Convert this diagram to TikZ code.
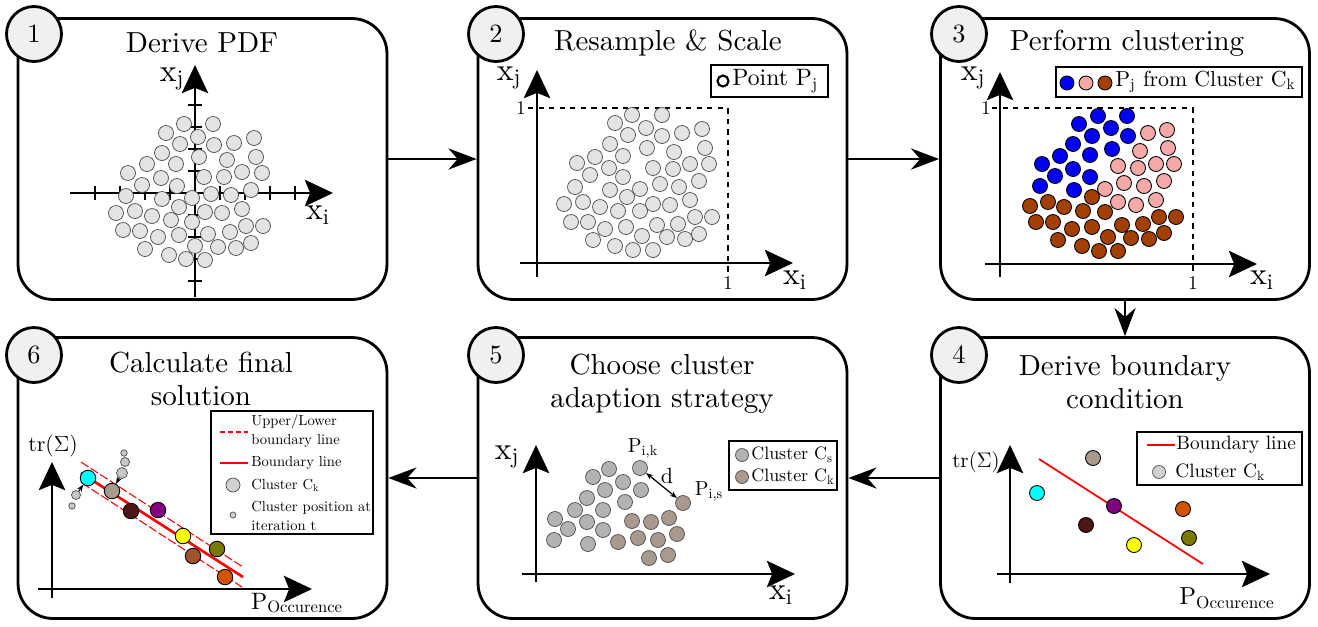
\RequirePackage{fix-cm}
\documentclass[tikz,border=0pt]{standalone}
\usepackage{fontspec}
\setmainfont{lmroman10-regular.otf}
\usepackage{tikz}
\usetikzlibrary{arrows.meta}

\definecolor{ptgray}{HTML}{E3E3E3}
\definecolor{numgray}{HTML}{F0F0F0}
\definecolor{clblue}{HTML}{0000F5}
\definecolor{clpink}{HTML}{F5A8A8}
\definecolor{clbrown}{HTML}{A33F00}
\definecolor{csgray}{HTML}{B3B3B3}
\definecolor{cktaupe}{HTML}{A99A8E}
\definecolor{ccyan}{HTML}{00FFFF}
\definecolor{cpurple}{HTML}{800080}
\definecolor{corange}{HTML}{D35400}
\definecolor{cdark}{HTML}{4D1515}
\definecolor{colive}{HTML}{7A7A00}
\definecolor{cyellow}{HTML}{FFFF00}
\definecolor{csienna}{HTML}{A0522D}

\tikzset{
  stepbox/.style={draw, line width=1.6pt, rounded corners=0.7cm, minimum width=7.38cm, minimum height=5.62cm},
  numcirc/.style={draw, circle, line width=1.6pt, fill=numgray, minimum size=1.1cm, inner sep=0pt, font=\fontsize{15}{18}\selectfont},
  title/.style={align=center, inner sep=0pt, font=\fontsize{16.5}{19}\selectfont},
  flow/.style={line width=1.5pt, -{Stealth[length=16pt,width=12pt]}},
  axis/.style={line width=1.4pt, -{Stealth[length=16pt,width=15pt,inset=3pt]}},
  axlabel/.style={font=\fontsize{18}{21}\selectfont, inner sep=0pt},
  unitlabel/.style={font=\fontsize{11}{13}\selectfont, inner sep=0pt},
  pt/.style={draw=black!70, line width=0.4pt, fill=ptgray},
  cl/.style={draw=black, line width=0.5pt},
  legbox/.style={draw, line width=1pt, inner sep=0pt},
  legtext/.style={anchor=west, inner sep=0pt, align=left}
}

\begin{document}
\begin{tikzpicture}[x=0.02cm, y=-0.02cm]
\useasboundingbox (0,0) rectangle (1318,626);

% step boxes
\node[stepbox] (b1) at (202.5,159) {};
\node[stepbox] (b2) at (662.5,159) {};
\node[stepbox] (b3) at (1125,159) {};
\node[stepbox] (b4) at (1125,478) {};
\node[stepbox] (b5) at (662.5,478) {};
\node[stepbox] (b6) at (202.5,478) {};

\node[numcirc] (n1) at (34,34) {1};
\node[numcirc] (n2) at (496,34) {2};
\node[numcirc] (n3) at (959,34) {3};
\node[numcirc] (n4) at (959,355) {4};
\node[numcirc] (n5) at (496,355) {5};
\node[numcirc] (n6) at (34,355) {6};

\node[title] (t1) at (202,43) {Derive PDF};
\node[title] (t2) at (668,43) {Resample \& Scale};
\node[title] (t3) at (1127,43) {Perform clustering};
\node[title] (t4) at (1125,382) {Derive boundary\\condition};
\node[title] (t5) at (662,384) {Choose cluster\\adaption strategy};
\node[title] (t6) at (201,379) {Calculate final\\solution};

\draw[flow] (b1) -- (b2);
\draw[flow] (b2) -- (b3);
\draw[flow] (b3) -- (b4);
\draw[flow] (b4) -- (b5);
\draw[flow] (b5) -- (b6);

% 1: PDF
\draw[axis] (70,193) -- (333,193);
\draw[axis] (195,297) -- (195,65);
\foreach \t in {95,120,145,170,220,245,270,295}
  \draw[line width=1pt] (\t,186) -- (\t,200);
\foreach \t in {105,127,149,171,215,237,259,281}
  \draw[line width=1pt] (188,\t) -- (202,\t);
\foreach \x/\y in {184/124,213/124,166/133,198/137,180/144,214/145,234/143,254/138,
  162/153,199/157,227/160,256/157,147/164,176/164,128/173,161/178,204/177,224/177,
  242/172,262/173,142/185,177/186,126/196,162/199,192/198,211/194,231/195,251/190,
  179/207,116/213,135/211,152/216,171/220,192/222,205/212,222/213,242/209,123/230,
  140/231,158/237,179/235,208/234,230/232,246/226,263/226,195/246,218/247,236/248,
  251/243,145/249,169/255,186/259,205/260}
  \draw[pt] (\x,\y) circle[radius=0.15cm];
\node[axlabel] (xj1) at (172,79) {$\mathrm{x}_\mathrm{j}$};
\node[axlabel] (xi1) at (318,215) {$\mathrm{x}_\mathrm{i}$};

% 2: resample
\draw[axis] (520,263) -- (793,263);
\draw[axis] (537,277) -- (537,70);
\draw[dashed, line width=0.7pt] (528,108) -- (728,108) -- (728,273);
\node[unitlabel] (one2a) at (521,108) {1};
\node[unitlabel] (one2b) at (728,283) {1};
\foreach \x/\y in {632/115,662/115,615/123,646/128,628/135,662/136,682/133,702/129,
  610/144,647/148,674/152,705/148,595/157,623/156,577/163,609/168,653/168,673/169,
  690/164,709/164,590/175,623/177,575/187,610/190,640/189,660/184,679/187,699/181,
  627/197,564/204,583/202,600/207,618/211,640/211,653/204,670/205,690/200,571/222,
  588/222,605/229,626/227,657/225,678/224,695/217,712/217,593/240,615/246,633/250,
  653/250,642/236,667/237,685/239,699/234}
  \draw[pt] (\x,\y) circle[radius=0.15cm];
\node[axlabel] (xj2) at (509,78) {$\mathrm{x}_\mathrm{j}$};
\node[axlabel] (xi2) at (795,280) {$\mathrm{x}_\mathrm{i}$};
\node[legbox, minimum width=2.34cm, minimum height=0.64cm] (leg2) at (769.5,81) {};
\draw[line width=1.2pt] (723,81) circle[radius=0.11cm];
\node[legtext, font=\fontsize{13.5}{15}\selectfont] (leg2a) at (732,81) {Point P$_\mathrm{j}$};

% 3: clustering
\draw[axis] (985,264) -- (1257,264);
\draw[axis] (1000,277) -- (1000,72);
\draw[dashed, line width=0.7pt] (992,108) -- (1193,108) -- (1193,273);
\node[unitlabel] (one3a) at (986,108) {1};
\node[unitlabel] (one3b) at (1193,283) {1};
\foreach \x/\y in {1098/116,1127/116,1079/124,1111/128,1092/136,1128/136,1073/144,
  1112/149,1060/156,1090/155,1042/164,1073/169,1055/176,1090/177,1040/186,1074/190}
  \draw[cl, fill=clblue] (\x,\y) circle[radius=0.15cm];
\foreach \x/\y in {1148/133,1167/130,1140/151,1168/148,1118/166,1138/168,1156/164,
  1174/164,1124/183,1144/186,1164/181,1105/189,1118/202,1136/205,1156/200}
  \draw[cl, fill=clpink] (\x,\y) circle[radius=0.15cm];
\foreach \x/\y in {1092/197,1030/206,1048/202,1064/207,1083/211,1105/212,1036/222,
  1053/222,1072/229,1092/227,1122/225,1143/224,1159/217,1176/217,1058/240,1082/246,
  1099/251,1118/251,1108/237,1131/238,1149/239,1164/233}
  \draw[cl, fill=clbrown] (\x,\y) circle[radius=0.15cm];
\node[axlabel] (xj3) at (973,78) {$\mathrm{x}_\mathrm{j}$};
\node[axlabel] (xi3) at (1262,280) {$\mathrm{x}_\mathrm{i}$};
\node[legbox, minimum width=4.92cm, minimum height=0.6cm] (leg3) at (1179,82) {};
\draw[cl, fill=clblue] (1067,83) circle[radius=0.14cm];
\draw[cl, fill=clpink] (1086,83) circle[radius=0.14cm];
\draw[cl, fill=clbrown] (1105,83) circle[radius=0.14cm];
\node[legtext, font=\fontsize{12.4}{14}\selectfont] (leg3a) at (1115,82) {P$_\mathrm{j}$ from Cluster C$_\mathrm{k}$};

% 4: boundary
\draw[axis] (997,574) -- (1270,574);
\draw[axis] (1010,583) -- (1010,445);
\draw[red, line width=1pt] (1039,459) -- (1203,564);
\foreach \x/\y/\c in {1093/458/cktaupe,1037/493/ccyan,1114/506/cpurple,1183/509/corange,
  1086/525/cdark,1189/538/colive,1134/545/cyellow}
  \draw[cl, fill=\c] (\x,\y) circle[radius=0.15cm];
\node[font=\fontsize{12}{15}\selectfont, inner sep=0pt] (tr4) at (976,462) {$\mathrm{tr}(\Sigma)$};
\node[font=\fontsize{14}{17}\selectfont, inner sep=0pt] (po4) at (1227,598) {$\mathrm{P}_\mathrm{Occurence}$};
\node[legbox, minimum width=3.3cm, minimum height=1.06cm] (leg4) at (1219.5,458.5) {};
\draw[red, line width=1pt] (1147,445) -- (1175,445);
\node[legtext, font=\fontsize{11}{13}\selectfont] (leg4a) at (1176,445) {Boundary line};
\draw[pt, fill=black!18] (1159,472) circle[radius=0.13cm];
\node[legtext, font=\fontsize{11}{13}\selectfont] (leg4b) at (1175,472) {Cluster C$_\mathrm{k}$};

% 5: adaption strategy
\draw[axis] (522,574) -- (795,574);
\draw[axis] (536,582) -- (536,445);
\foreach \x/\y in {609/469,593/477,623/482,641/490,605/490,587/498,625/502,575/510,
  603/510,555/519,587/522,568/529,603/530,554/540,588/544}
  \draw[pt, fill=csgray] (\x,\y) circle[radius=0.15cm];
\foreach \x/\y in {632/521,651/522,669/518,618/542,638/538,658/540,677/534,649/558,668/555}
  \draw[pt, fill=cktaupe] (\x,\y) circle[radius=0.15cm];
\node[circle, pt, fill=csgray, minimum size=0.3cm, inner sep=0pt] (pik) at (640,468) {};
\node[circle, pt, fill=cktaupe, minimum size=0.3cm, inner sep=0pt] (pis) at (683,503) {};
\draw[line width=0.7pt, {Stealth[length=4pt,width=3pt]}-{Stealth[length=4pt,width=3pt]}] (pik) -- (pis);
\node[font=\fontsize{11.5}{13}\selectfont, inner sep=0pt] (pikl) at (643,448) {P$_\mathrm{i,k}$};
\node[font=\fontsize{11.5}{13}\selectfont, inner sep=0pt] (pisl) at (709,491) {P$_\mathrm{i,s}$};
\node[font=\fontsize{12.5}{14}\selectfont, inner sep=0pt] (dl) at (667,476) {d};
\node[axlabel] (xj5) at (507,457) {$\mathrm{x}_\mathrm{j}$};
\node[axlabel] (xi5) at (781,595) {$\mathrm{x}_\mathrm{i}$};
\node[legbox, minimum width=2.16cm, minimum height=0.98cm] (leg5) at (783,465.5) {};
\draw[pt, fill=csgray] (742,455) circle[radius=0.13cm];
\draw[pt, fill=cktaupe] (742,477) circle[radius=0.13cm];
\node[legtext, font=\fontsize{10.2}{12}\selectfont] (leg5a) at (751,455) {Cluster C$_\mathrm{s}$};
\node[legtext, font=\fontsize{10.2}{12}\selectfont] (leg5b) at (751,477) {Cluster C$_\mathrm{k}$};

% 6: final solution
\draw[axis] (38,589) -- (312,589);
\draw[axis] (52,598) -- (52,462);
\draw[red, line width=0.6pt, dash pattern=on 5pt off 1.5pt] (81,462) -- (243,567);
\draw[red, line width=1.5pt] (81,473) -- (243,577);
\draw[red, line width=0.6pt, dash pattern=on 5pt off 1.5pt] (82,483) -- (242,587);
\foreach \x/\y/\r in {72/506/0.065,124/453/0.065,125/462/0.09}
  \draw[pt, fill=black!22] (\x,\y) circle[radius=\r cm];
\node[circle, pt, fill=black!22, minimum size=0.18cm, inner sep=0pt] (it1) at (76,495) {};
\node[circle, pt, fill=black!22, minimum size=0.22cm, inner sep=0pt] (it2) at (122,473) {};
\node[circle, cl, fill=ccyan, minimum size=0.31cm, inner sep=0pt] (ccy) at (88,478) {};
\node[circle, cl, fill=cktaupe, minimum size=0.31cm, inner sep=0pt] (ctp) at (112,491) {};
\draw[line width=0.6pt, -{Stealth[length=4pt,width=3pt]}] (it1) -- (ccy);
\draw[line width=0.6pt, -{Stealth[length=4pt,width=3pt]}] (it2) -- (ctp);
\foreach \x/\y/\c in {131/511/cdark,158/510/cpurple,183/536/cyellow,217/549/colive,
  193/556/csienna,225/577/corange}
  \draw[cl, fill=\c] (\x,\y) circle[radius=0.155cm];
\node[font=\fontsize{12.5}{15}\selectfont, inner sep=0pt] (tr6) at (53,446) {$\mathrm{tr}(\Sigma)$};
\node[font=\fontsize{13.5}{16}\selectfont, inner sep=0pt] (po6) at (297,603) {$\mathrm{P}_\mathrm{Occurence}$};
\node[legbox, minimum width=3.24cm, minimum height=2.46cm] (leg6) at (292,472.5) {};
\draw[red, line width=1pt, dash pattern=on 3pt off 1.5pt] (220,432) -- (248,432);
\node[legtext, font=\fontsize{8.3}{11}\selectfont] (leg6a) at (251,431) {Upper/Lower\\boundary line};
\draw[red, line width=1pt] (220,463) -- (248,463);
\node[legtext, font=\fontsize{8.3}{11}\selectfont] (leg6b) at (251,463) {Boundary line};
\draw[pt, fill=black!18] (233,485) circle[radius=0.14cm];
\node[legtext, font=\fontsize{8.3}{11}\selectfont] (leg6c) at (251,485) {Cluster C$_\mathrm{k}$};
\draw[pt, fill=black!18] (233,515) circle[radius=0.06cm];
\node[legtext, font=\fontsize{8.3}{11}\selectfont] (leg6d) at (251,516) {Cluster position at\\iteration t};
\end{tikzpicture}
\end{document}
